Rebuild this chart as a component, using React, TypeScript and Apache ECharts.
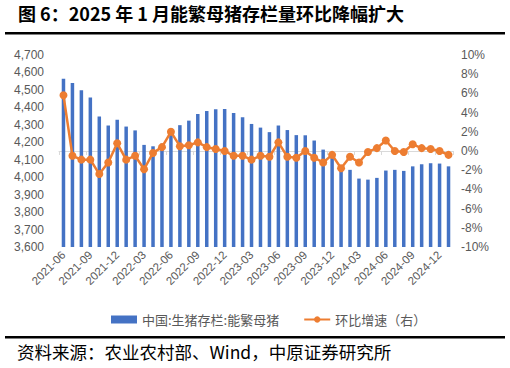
import React, { useEffect, useRef } from "react";
import * as echarts from "echarts";

const categories = [
  "2021-06","2021-07","2021-08","2021-09","2021-10","2021-11","2021-12",
  "2022-01","2022-02","2022-03","2022-04","2022-05","2022-06","2022-07","2022-08","2022-09","2022-10","2022-11","2022-12",
  "2023-01","2023-02","2023-03","2023-04","2023-05","2023-06","2023-07","2023-08","2023-09","2023-10","2023-11","2023-12",
  "2024-01","2024-02","2024-03","2024-04","2024-05","2024-06","2024-07","2024-08","2024-09","2024-10","2024-11","2024-12",
  "2025-01",
];

const sowStock = [
  4564, 4539, 4498, 4457, 4348, 4296, 4329,
  4290, 4268, 4185, 4177, 4192, 4277, 4298, 4324, 4362, 4379, 4389, 4390,
  4367, 4343, 4305, 4284, 4258, 4296, 4270, 4241, 4240, 4210, 4158, 4142,
  4067, 4042, 3992, 3986, 3996, 4038, 4042, 4036, 4062, 4074, 4080, 4078,
  4062,
];

const momGrowth = [
  5.8, -0.5, -0.9, -0.9, -2.4, -1.2, 0.8,
  -0.9, -0.5, -1.9, -0.2, 0.4, 2.0, 0.5, 0.6, 0.9, 0.4, 0.2, 0.0,
  -0.5, -0.5, -0.9, -0.5, -0.6, 0.9, -0.6, -0.7, 0.0, -0.7, -1.2, -0.4,
  -1.8, -0.6, -1.2, -0.1, 0.3, 1.1, 0.0, -0.1, 0.7, 0.3, 0.2, 0.0,
  -0.4,
];

const titleText = "图 6：2025 年 1 月能繁母猪存栏量环比降幅扩大";
const sourceText = "资料来源：农业农村部、Wind，中原证券研究所";
const barName = "中国:生猪存栏:能繁母猪";
const lineName = "环比增速（右）";

export default function App() {
  const ref = useRef<HTMLDivElement>(null);
  useEffect(() => {
    if (!ref.current) return;
    const chart = echarts.init(ref.current, null, { renderer: "svg" });
    const labelColor = "#595959";
    const font = "'Liberation Sans', 'Noto Sans CJK SC', sans-serif";
    chart.setOption({
      animation: false,
      backgroundColor: "#ffffff",
      textStyle: { fontFamily: font },
      grid: { left: 59, right: 57, top: 55, bottom: 121, containLabel: false },
      legend: {
        left: 106,
        top: 308,
        itemGap: 24,
        textStyle: { color: labelColor, fontSize: 13, fontFamily: "'Noto Sans CJK SC', sans-serif" },
        data: [
          { name: barName, icon: "rect", itemStyle: { color: "#4472C4" } },
          { name: lineName },
        ],
        itemWidth: 26,
        itemHeight: 8,
      },
      xAxis: {
        type: "category",
        data: categories,
        boundaryGap: true,
        axisLine: { lineStyle: { color: "#d9d9d9", width: 1 } },
        axisTick: { show: true, interval: 2, length: 4, lineStyle: { color: "#d9d9d9" } },
        axisLabel: {
          interval: 2,
          rotate: 45,
          color: labelColor,
          fontSize: 11.5,
          margin: 6,
        },
      },
      yAxis: [
        {
          type: "value",
          min: 3600,
          max: 4700,
          interval: 100,
          splitLine: { show: false },
          axisLine: { show: false },
          axisTick: { show: false },
          axisLabel: {
            color: labelColor,
            fontSize: 12,
            margin: 15,
            formatter: (v: number) => v.toLocaleString("en-US"),
          },
        },
        {
          type: "value",
          min: -10,
          max: 10,
          interval: 2,
          splitLine: { show: false },
          axisLine: { show: false },
          axisTick: { show: false },
          axisLabel: { color: labelColor, fontSize: 12, margin: 8, formatter: "{value}%" },
        },
      ],
      series: [
        {
          name: barName,
          type: "bar",
          data: sowStock,
          barWidth: 3.5,
          itemStyle: { color: "#4472C4" },
        },
        {
          name: lineName,
          type: "line",
          yAxisIndex: 1,
          data: momGrowth,
          symbol: "circle",
          symbolSize: 8,
          showAllSymbol: true,
          lineStyle: { color: "#ED7D31", width: 2.5 },
          itemStyle: { color: "#ED7D31" },
        },
      ],
      graphic: [
        {
          type: "text",
          left: 18,
          top: 4,
          style: {
            text: titleText,
            fontSize: 18,
            fontWeight: "bold",
            fill: "#000000",
            fontFamily: "'Noto Sans CJK SC', sans-serif",
          },
        },
        {
          type: "rect",
          shape: { x: 5, y: 32, width: 500, height: 2.5 },
          style: { fill: "#000000" },
        },
        {
          type: "rect",
          shape: { x: 5, y: 336, width: 500, height: 2.5 },
          style: { fill: "#000000" },
        },
        {
          type: "text",
          left: 17,
          top: 343,
          style: {
            text: sourceText,
            fontSize: 17.5,
            fill: "#000000",
            fontFamily: "'Noto Sans CJK SC', sans-serif",
          },
        },
      ],
    });
    return () => chart.dispose();
  }, []);
  return <div ref={ref} style={{ width: 510, height: 368, position: "absolute", left: 0, top: 0 }} />;
}
